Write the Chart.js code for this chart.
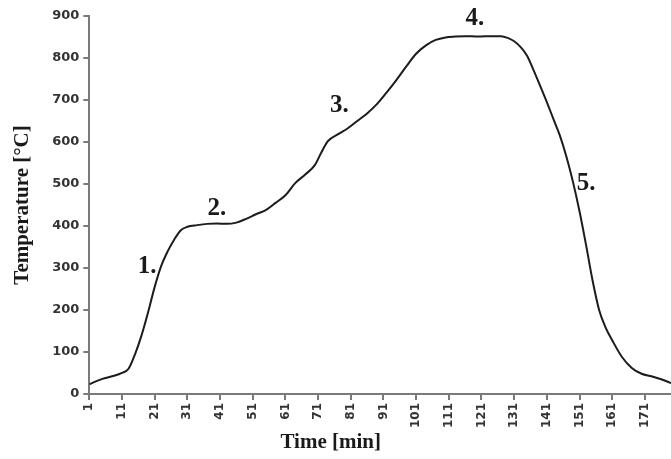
<!DOCTYPE html>
<html>
<head>
<meta charset="utf-8">
<script src="https://cdn.jsdelivr.net/npm/chart.js@4/dist/chart.umd.min.js"></script>
<style>
  html, body { margin: 0; padding: 0; background: #fff; }
  #wrap { width: 671px; height: 459px; position: relative; }
</style>
</head>
<body>
<div id="wrap"><canvas id="c"></canvas></div>
<script>
// Furnace temperature record over a firing run
const minutes = [1, 3, 5, 8, 11, 13, 15, 17, 19, 21, 23, 25, 27, 29, 31, 34, 37, 40, 43, 46,
  49, 52, 55, 58, 61, 64, 67, 70, 72, 74, 77, 80, 83, 86, 89, 92, 95, 98, 101, 104,
  107, 110, 113, 116, 120, 124, 127, 129, 131, 133, 135, 137, 139, 141, 143, 145, 147, 149, 151, 153,
  155, 157, 159, 161, 164, 167, 170, 173, 176, 179];
const temperatures = [23, 30, 36, 42, 50, 60, 95, 140, 195, 255, 305, 340, 368, 390, 398, 402, 405, 406, 405, 408,
  417, 428, 438, 455, 473, 502, 522, 545, 575, 602, 618, 632, 650, 668, 690, 718, 748, 780, 810, 830,
  843, 849, 851, 852, 851, 852, 852, 848, 840, 826, 805, 770, 733, 695, 655, 615, 565, 505, 435, 355,
  270, 200, 158, 128, 88, 62, 48, 42, 35, 26];
const timeTicks = [1, 11, 21, 31, 41, 51, 61, 71, 81, 91, 101, 111, 121, 131, 141, 151, 161, 171];

// Stage markers placed along the curve
const stageText = ['1.', '2.', '3.', '4.', '5.'];
const stageMinute = [18.7, 40, 77.5, 119, 153];
const stageTemp = [303, 441, 687, 893, 502];

const axisGrey = '#7a7a7a';
const tickFont = { family: 'DejaVu Sans', weight: 'bold', size: 13 };
const titleFont = { family: 'Liberation Serif', weight: 'bold', size: 21 };

const stagePlugin = {
  id: 'stages',
  afterDatasetsDraw(chart) {
    const { ctx, scales } = chart;
    ctx.save();
    ctx.font = 'bold 25px "Liberation Serif"';
    ctx.fillStyle = '#1a1a1a';
    ctx.textAlign = 'center';
    ctx.textBaseline = 'middle';
    stageText.forEach((t, i) => {
      ctx.fillText(t, scales.x.getPixelForValue(stageMinute[i]), scales.y.getPixelForValue(stageTemp[i]));
    });
    ctx.restore();
  }
};

const timeTitlePlugin = {
  id: 'timeTitle',
  afterDraw(chart) {
    const { ctx, chartArea } = chart;
    ctx.save();
    ctx.font = 'bold 21px "Liberation Serif"';
    ctx.fillStyle = '#1a1a1a';
    ctx.textAlign = 'center';
    ctx.textBaseline = 'alphabetic';
    const x = chartArea.left + (chartArea.right - chartArea.left) * 0.415;
    ctx.fillText('Time [min]', x, chart.height - 11);
    ctx.restore();
  }
};

new Chart(document.getElementById('c'), {
  type: 'line',
  data: {
    datasets: [{
      data: minutes.map((m, i) => ({ x: m, y: temperatures[i] })),
      borderColor: '#1c1c1c',
      borderWidth: 2,
      pointRadius: 0,
      cubicInterpolationMode: 'monotone',
      fill: false
    }]
  },
  options: {
    responsive: true,
    maintainAspectRatio: false,
    animation: false,
    layout: { padding: { left: 10, right: 0, top: 16, bottom: 28 } },
    plugins: { legend: { display: false }, tooltip: { enabled: false } },
    scales: {
      x: {
        type: 'linear',
        min: 1,
        max: 179,
        afterBuildTicks: (s) => { s.ticks = timeTicks.map(v => ({ value: v })); },
        border: { display: true, color: axisGrey, width: 2 },
        grid: { display: true, drawOnChartArea: false, drawTicks: true, tickLength: 6, color: axisGrey, lineWidth: 2 },
        ticks: {
          autoSkip: false,
          minRotation: 90,
          maxRotation: 90,
          padding: 3,
          color: '#333',
          font: { family: 'DejaVu Sans', weight: 'bold', size: 12 },
          callback: (v) => String(v)
        },
        title: { display: false }
      },
      y: {
        min: 0,
        max: 900,
        border: { display: true, color: axisGrey, width: 2 },
        grid: { display: true, drawOnChartArea: false, drawTicks: true, tickLength: 6, color: axisGrey, lineWidth: 2 },
        ticks: { stepSize: 100, padding: 4, color: '#333', font: tickFont },
        title: {
          display: true,
          text: 'Temperature [°C]',
          color: '#1a1a1a',
          font: titleFont,
          padding: { top: 0, bottom: 13 }
        }
      }
    }
  },
  plugins: [stagePlugin, timeTitlePlugin]
});
</script>
</body>
</html>
